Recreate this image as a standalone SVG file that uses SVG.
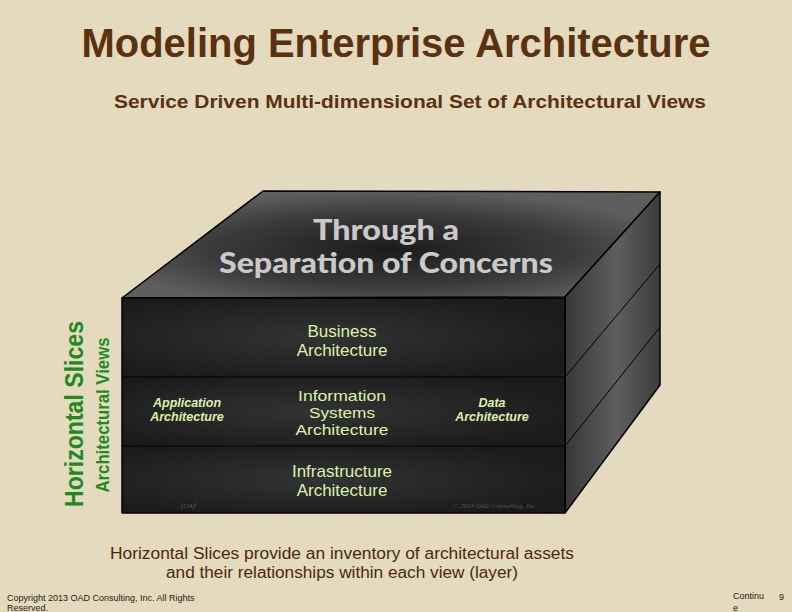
<svg xmlns="http://www.w3.org/2000/svg" width="792" height="612" viewBox="0 0 792 612">
<defs>
<filter id="paper" x="0" y="0" width="100%" height="100%">
<feTurbulence type="fractalNoise" baseFrequency="0.9" numOctaves="2" seed="3" result="n"/>
<feColorMatrix in="n" type="matrix" values="0 0 0 0 0.55  0 0 0 0 0.5  0 0 0 0 0.38  0 0 0 0.18 0" result="c"/>
<feComposite in="c" in2="SourceGraphic" operator="in" result="t"/>
<feMerge><feMergeNode in="SourceGraphic"/><feMergeNode in="t"/></feMerge>
</filter>
<radialGradient id="topG" cx="0.5" cy="0.55" r="0.55">
<stop offset="0" stop-color="#1c1c1c"/>
<stop offset="0.6" stop-color="#3a3a3a"/>
<stop offset="1" stop-color="#5e5e5e"/>
</radialGradient>
<radialGradient id="bandG" cx="0.45" cy="0.5" r="0.6">
<stop offset="0" stop-color="#333333"/>
<stop offset="1" stop-color="#1b1b1b"/>
</radialGradient>
<linearGradient id="sideG" x1="0" y1="0" x2="1" y2="0">
<stop offset="0" stop-color="#383838"/>
<stop offset="0.55" stop-color="#5e5e5e"/>
<stop offset="1" stop-color="#3c3c3c"/>
</linearGradient>
</defs>
<style>
.title{font-family:"Liberation Sans",Arial,sans-serif;font-weight:bold;fill:#5a3210}
.sub{font-family:"Liberation Sans",Arial,sans-serif;font-weight:bold;fill:#5a3210}
.note{font-family:"Liberation Sans",Arial,sans-serif;fill:#4a2a0a;font-size:16px}
.green{font-family:"Liberation Sans",Arial,sans-serif;font-weight:bold;fill:#1f8a1f}
.lab{font-family:"Liberation Sans",Arial,sans-serif;fill:#dcf2a8;font-size:17px;text-anchor:middle}
.lab2{font-family:"Liberation Sans",Arial,sans-serif;fill:#dcf2a8;font-size:15px;text-anchor:middle}
.ital{font-family:"Liberation Sans",Arial,sans-serif;fill:#dcf2a8;font-size:12.5px;font-style:italic;font-weight:bold;text-anchor:middle}
.edge{stroke:#000;stroke-width:1.5;stroke-linejoin:round}
.thin{stroke:#000;stroke-width:1}
.foot{font-family:"Liberation Sans",Arial,sans-serif;fill:#2a2010;font-size:9px}
.faint{font-family:"Liberation Serif",serif;font-style:italic;fill:#5a5a5a;font-size:7px}
.big{font-family:Lato,"Open Sans",sans-serif;font-weight:900;font-size:28px;fill:#c9c9c9;text-anchor:middle}
</style>
<rect x="0" y="0" width="792" height="612" fill="#e7ddc1" filter="url(#paper)"/>

<g id="title">
<text class="title" x="396" y="57" font-size="40" text-anchor="middle" textLength="629" lengthAdjust="spacingAndGlyphs">Modeling Enterprise Architecture</text>
</g>
<g id="subtitle">
<text class="sub" x="410" y="108" font-size="19" text-anchor="middle" textLength="592" lengthAdjust="spacingAndGlyphs">Service Driven Multi-dimensional Set of Architectural Views</text>
</g>

<g id="cube">
<polygon class="edge" points="122,298 263,191 660,192 565,297" fill="url(#topG)"/>
<polygon class="edge" points="565,297 660,192 660,385 565,513" fill="url(#sideG)"/>
<rect x="122" y="298" width="443" height="79" fill="url(#bandG)"/>
<rect x="122" y="377" width="443" height="69" fill="url(#bandG)"/>
<rect x="122" y="446" width="443" height="67" fill="url(#bandG)"/>
<rect class="edge" x="122" y="298" width="443" height="215" fill="none"/>
<line class="thin" x1="122" y1="377" x2="565" y2="377"/>
<line class="thin" x1="122" y1="446" x2="565" y2="446"/>
<line class="thin" x1="565" y1="377" x2="660" y2="264"/>
<line class="thin" x1="565" y1="446" x2="660" y2="327"/>
<text class="big" x="386" y="240" textLength="146" lengthAdjust="spacingAndGlyphs">Through a</text>
<text class="big" x="386" y="273" textLength="334" lengthAdjust="spacingAndGlyphs">Separation of Concerns</text>
<text class="faint" x="181" y="508">(OA)<tspan font-size="5" dy="-3">3</tspan></text>
<text class="faint" x="495" y="508" text-anchor="middle">© 2013 OAD Consulting, Inc.</text>
</g>

<g id="business">
<text class="lab" x="342" y="337">Business</text>
<text class="lab" x="342" y="356">Architecture</text>
</g>
<g id="information-systems">
<text class="lab2" x="342" y="401" textLength="88" lengthAdjust="spacingAndGlyphs">Information</text>
<text class="lab2" x="342" y="418" textLength="66" lengthAdjust="spacingAndGlyphs">Systems</text>
<text class="lab2" x="342" y="435" textLength="93" lengthAdjust="spacingAndGlyphs">Architecture</text>
</g>
<g id="application">
<text class="ital" x="187" y="407">Application</text>
<text class="ital" x="187" y="421">Architecture</text>
</g>
<g id="data">
<text class="ital" x="492" y="407">Data</text>
<text class="ital" x="492" y="421">Architecture</text>
</g>
<g id="infrastructure">
<text class="lab" x="342" y="477">Infrastructure</text>
<text class="lab" x="342" y="496">Architecture</text>
</g>

<g id="side-labels">
<text class="green" transform="translate(83,414) rotate(-90)" font-size="26" text-anchor="middle" textLength="186" lengthAdjust="spacingAndGlyphs">Horizontal Slices</text>
<text class="green" transform="translate(109,415) rotate(-90)" font-size="18" text-anchor="middle" textLength="155" lengthAdjust="spacingAndGlyphs">Architectural Views</text>
</g>

<g id="caption">
<text class="note" x="342" y="559" text-anchor="middle" textLength="464" lengthAdjust="spacingAndGlyphs">Horizontal Slices provide an inventory of architectural assets</text>
<text class="note" x="342" y="578" text-anchor="middle" textLength="352" lengthAdjust="spacingAndGlyphs">and their relationships within each view (layer)</text>
</g>

<g id="footer">
<text class="foot" x="7" y="601">Copyright 2013 OAD Consulting, Inc. All Rights</text>
<text class="foot" x="7" y="611">Reserved.</text>
<text class="foot" x="733" y="599">Continu</text>
<text class="foot" x="733" y="611">e</text>
<text class="foot" x="779" y="600" font-size="10">9</text>
</g>
</svg>
